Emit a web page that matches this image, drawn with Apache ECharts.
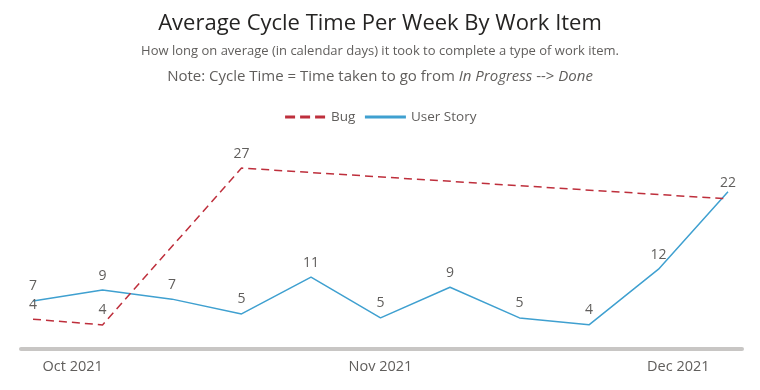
<!DOCTYPE html>
<html><head><meta charset="utf-8">
<script src="https://cdn.jsdelivr.net/npm/echarts@6/dist/echarts.min.js"></script>
<style>html,body{margin:0;padding:0;background:#fff}#c{width:760px;height:390px}</style>
</head><body><div id="c"></div>
<script>
// ---- data ----
const weeks = ['2021-09-27','2021-10-04','2021-10-11','2021-10-18','2021-10-25','2021-11-01','2021-11-08','2021-11-15','2021-11-22','2021-11-29','2021-12-06'];
const userStory = [7.2, 8.7, 7.45, 5.4, 10.5, 4.85, 9.1, 4.85, 3.9, 11.6, 22.3];
const bugWeeks = ['2021-09-27','2021-10-04','2021-10-18','2021-12-06'];
const bug = [4.45, 3.6, 27, 22.4];
const monthTicks = ['2021-10-01','2021-11-01','2021-12-01'];
const monthNames = ['Jan','Feb','Mar','Apr','May','Jun','Jul','Aug','Sep','Oct','Nov','Dec'];
const seriesNames = ['Bug','User Story'];
const titleText = 'Average Cycle Time Per Week By Work Item';
const subText1 = 'How long on average (in calendar days) it took to complete a type of work item.';
const subText2 = 'Note: Cycle Time = Time taken to go from {i|In Progress} --> {i|Done}';

// ---- helpers ----
const ts = s => Date.parse(s + 'T00:00:00');
const DAY = 86400000;
const FONT = '"Segoe UI", "Open Sans", "Noto Sans", sans-serif';
const GRAY = '#605E5C';
const RED = '#BE2F3C';
const BLUE = '#3FA0D0';

const chart = echarts.init(document.getElementById('c'), null, {renderer: 'canvas'});
const labelBase = {show: true, position: 'top', distance: 7, color: GRAY, fontSize: 14, fontFamily: FONT,
  formatter: p => Math.round(p.value[1])};

chart.setOption({
  animation: false,
  backgroundColor: '#fff',
  title: [
    {text: titleText, left: 'center', top: 5, textStyle: {fontFamily: FONT, fontWeight: 'normal', fontSize: 22, color: '#252423', lineHeight: 28}},
    {text: subText1, left: 'center', top: 36, textStyle: {fontFamily: FONT, fontWeight: 'normal', fontSize: 13, color: GRAY, lineHeight: 20}},
    {text: subText2, left: 'center', top: 61, textStyle: {fontFamily: FONT, fontWeight: 'normal', fontSize: 15, color: GRAY, lineHeight: 22,
      rich: {i: {fontFamily: FONT, fontStyle: 'italic', fontSize: 15, color: GRAY, lineHeight: 22}}}}
  ],
  legend: {
    top: 105, left: 'center', itemWidth: 41, itemHeight: 14, itemGap: 8,
    textStyle: {fontFamily: FONT, fontSize: 13.5, color: GRAY},
    itemStyle: {color: 'rgba(0,0,0,0)', borderWidth: 0},
    data: [
      {name: seriesNames[0], lineStyle: {width: 3, type: [10, 5], color: RED}},
      {name: seriesNames[1], lineStyle: {width: 3, color: BLUE}}
    ]
  },
  grid: {left: 21, right: 18, top: 150, bottom: 41, containLabel: false},
  xAxis: {
    type: 'value',
    min: ts(weeks[0]) - 1.21 * DAY,
    max: ts(weeks[weeks.length - 1]) + 1.41 * DAY,
    axisLine: {show: true, onZero: false, lineStyle: {color: '#C8C6C4', width: 4}},
    axisTick: {show: false},
    splitLine: {show: false},
    axisLabel: {
      customValues: monthTicks.map(ts),
      formatter: v => { const d = new Date(v); return monthNames[d.getMonth()] + ' ' + d.getFullYear(); },
      color: GRAY, fontSize: 14.5, fontFamily: FONT, margin: 10
    }
  },
  yAxis: [
    {type: 'value', show: false, min: 0.553, max: 28.08, splitLine: {show: false}},
    {type: 'value', show: false, min: 0, max: 29.70, splitLine: {show: false}}
  ],
  series: [
    {
      name: seriesNames[0], type: 'line', yAxisIndex: 1,
      data: bugWeeks.map((d, i) => i === bugWeeks.length - 1 ? {value: [ts(d), bug[i]], label: {show: false}} : [ts(d), bug[i]]),
      symbol: 'circle', symbolSize: 1, showSymbol: true,
      itemStyle: {color: 'rgba(0,0,0,0)'},
      lineStyle: {color: RED, width: 1.5, type: [8, 5]},
      label: labelBase, emphasis: {disabled: true}, z: 3
    },
    {
      name: seriesNames[1], type: 'line', yAxisIndex: 0,
      data: weeks.map((d, i) => i === weeks.length - 1 ? {value: [ts(d), userStory[i]], label: {distance: 1}} : [ts(d), userStory[i]]),
      symbol: 'circle', symbolSize: 1, showSymbol: true,
      itemStyle: {color: 'rgba(0,0,0,0)'},
      lineStyle: {color: BLUE, width: 1.5},
      label: labelBase, emphasis: {disabled: true}, z: 2
    }
  ]
});
</script></body></html>
